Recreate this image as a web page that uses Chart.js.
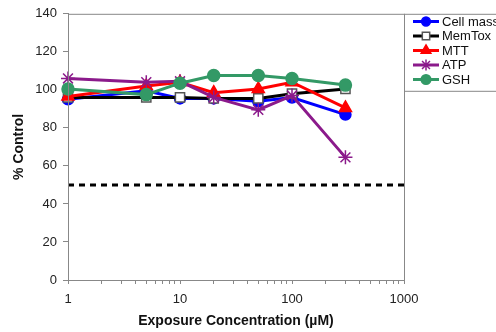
<!DOCTYPE html>
<html lang="en">
<head>
  <meta charset="UTF-8">
  <title>% Control vs exposure concentration</title>
  <style>
    body {
      margin: 0;
      padding: 0;
      background-color: white;
    }
    .chart-box {
      width: 496px;
      height: 332px;
      position: relative;
    }
  </style>
</head>
<body>
  <div class="chart-box">
    <canvas id="myChart"></canvas>
  </div>

  <script src="https://cdn.jsdelivr.net/npm/chart.js"></script>
  <script>
    // concentrations (uM) and % control for each assay
    const concentrations = [1, 5, 10, 20, 50, 100, 300];
    const cellMass = [95, 99.5, 95.5, 95.5, 94, 96, 87];
    const memTox = [96, 96, 96, 95.5, 95.5, 98, 100.5];
    const mtt = [96.5, 102, 104, 98.5, 100.5, 104, 90.5];
    const atp = [106, 104, 104.5, 96, 89.5, 97, 64.5];
    const gsh = [100.5, 97.5, 103.5, 107.5, 107.5, 106, 102.5];

    const thresholdX = [1, 1000];
    const thresholdY = [50, 50];

    const xTickValues = [1, 10, 100, 1000];
    const yTickValues = [0, 20, 40, 60, 80, 100, 120, 140];

    function toPoints(xs, ys) {
      return xs.map((x, i) => ({ x: x, y: ys[i] }));
    }

    const seriesInfo = [
      { label: "Cell mass", data: cellMass, color: "#0000ff", style: "circle", radius: 5.5, fill: "#0000ff", order: 5 },
      { label: "MemTox", data: memTox, color: "#000000", style: "rect", radius: 6.5, fill: "#ffffff", order: 4 },
      { label: "MTT", data: mtt, color: "#ff0000", style: "triangle", radius: 7, fill: "#ff0000", order: 3 },
      { label: "ATP", data: atp, color: "#8b1a8b", style: "star", radius: 7, fill: "#8b1a8b", order: 2 },
      { label: "GSH", data: gsh, color: "#339966", style: "circle", radius: 6, fill: "#339966", order: 1 },
    ];

    const datasets = seriesInfo.map(s => ({
      label: s.label,
      data: toPoints(concentrations, s.data),
      borderColor: s.color,
      backgroundColor: s.fill,
      pointStyle: s.style,
      pointRadius: s.radius,
      pointBackgroundColor: s.fill,
      pointBorderColor: s.style === "rect" ? "#555555" : s.color,
      pointBorderWidth: 1.5,
      borderWidth: 3,
      order: s.order,
      clip: false,
    }));

    datasets.push({
      label: "50%",
      data: toPoints(thresholdX, thresholdY),
      borderColor: "#000000",
      borderWidth: 3,
      borderDash: [6, 5],
      pointRadius: 0,
      order: 9,
    });

    // frame around plot area plus legend drawn by hand
    const framePlugin = {
      id: "frame",
      afterDraw(chart) {
        const ctx = chart.ctx;
        const a = chart.chartArea;
        ctx.save();
        ctx.strokeStyle = "#888888";
        ctx.lineWidth = 1;
        ctx.strokeRect(a.left + 0.5, a.top + 0.5, a.right - a.left, a.bottom - a.top);

        // legend box
        const lx = a.right + 0.5;
        const ly = a.top + 0.5;
        ctx.strokeRect(lx, ly, 120, 77);

        ctx.font = "13px 'Liberation Sans', Arial, sans-serif";
        ctx.textBaseline = "middle";
        ctx.fillStyle = "#111111";
        seriesInfo.forEach((s, i) => {
          const y = 21.5 + i * 14.5;
          ctx.strokeStyle = s.color;
          ctx.lineWidth = 3;
          ctx.beginPath();
          ctx.moveTo(413, y);
          ctx.lineTo(439, y);
          ctx.stroke();
          ctx.fillStyle = s.fill;
          ctx.strokeStyle = s.style === "rect" ? "#555555" : s.color;
          ctx.lineWidth = 1.5;
          Chart.helpers.drawPoint(ctx, { pointStyle: s.style, radius: s.radius * 0.8, borderWidth: 1.5 }, 426, y);
          ctx.fillStyle = "#111111";
          ctx.fillText(s.label, 442, y + 0.5);
        });
        ctx.restore();
      }
    };

    const ctx = document.getElementById("myChart").getContext("2d");
    const myChart = new Chart(ctx, {
      type: "line",
      data: { datasets: datasets },
      options: {
        responsive: true,
        maintainAspectRatio: false,
        animation: false,
        layout: {
          padding: { top: 12, right: 92, left: 0, bottom: 0 },
        },
        plugins: {
          legend: { display: false },
          tooltip: { enabled: false },
        },
        scales: {
          x: {
            type: "logarithmic",
            min: 1,
            max: 1000,
            afterBuildTicks: scale => {
              const ticks = [];
              for (let d = 1; d < 1000; d *= 10) {
                for (let m = 1; m < 10; m++) ticks.push({ value: m * d });
              }
              ticks.push({ value: 1000 });
              scale.ticks = ticks;
            },
            afterFit: scale => { scale.height = 52; },
            ticks: {
              autoSkip: false,
              maxRotation: 0,
              padding: 8,
              color: "#222222",
              font: { family: "'Liberation Sans', Arial, sans-serif", size: 13 },
              callback: value => xTickValues.includes(value) ? String(value) : "",
            },
            grid: {
              drawOnChartArea: false,
              tickLength: 4,
              color: "#888888",
            },
            border: { color: "#888888" },
            title: {
              display: true,
              text: "Exposure Concentration (µM)",
              color: "#111111",
              font: { family: "'Liberation Sans', Arial, sans-serif", size: 14, weight: "bold" },
              padding: { top: 0, bottom: 2 },
            },
          },
          y: {
            min: 0,
            max: 140,
            afterBuildTicks: scale => {
              scale.ticks = yTickValues.map(v => ({ value: v }));
            },
            afterFit: scale => { scale.width = 68; },
            ticks: {
              padding: 6,
              color: "#222222",
              font: { family: "'Liberation Sans', Arial, sans-serif", size: 13 },
            },
            grid: {
              drawOnChartArea: false,
              tickLength: 5,
              color: "#888888",
            },
            border: { color: "#888888" },
            title: {
              display: true,
              text: "% Control",
              color: "#111111",
              font: { family: "'Liberation Sans', Arial, sans-serif", size: 14, weight: "bold" },
              padding: { top: 11, bottom: 0 },
            },
          },
        },
      },
      plugins: [framePlugin],
    });
  </script>
</body>
</html>
